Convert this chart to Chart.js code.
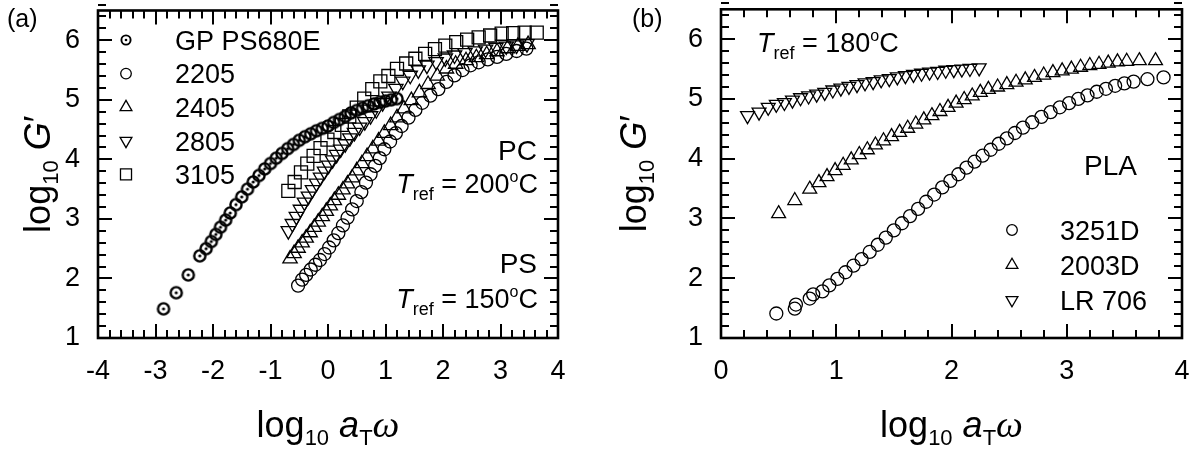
<!DOCTYPE html>
<html><head><meta charset="utf-8">
<script src="https://cdn.jsdelivr.net/npm/chart.js@4/dist/chart.umd.min.js"></script>
<style>
html,body{margin:0;padding:0;background:#fff;}
#wrap{position:relative;width:1193px;height:450px;overflow:hidden;background:#fff;}
.p{position:absolute;top:0;height:450px;}
</style></head><body>
<div id="wrap">
<div class="p" style="left:0;width:596px"><canvas id="ca"></canvas></div>
<div class="p" style="left:596px;width:597px"><canvas id="cb"></canvas></div>
</div>
<script>
// ---------- tick labels ----------
const xTicksA = [-4,-3,-2,-1,0,1,2,3,4];
const xTicksB = [0,1,2,3,4];
const yTicks = [1,2,3,4,5,6];

// ---------- panel (a) ----------
const labelsA = ['GP PS680E','2205','2405','2805','3105'];
const gpX = [-2.86,-2.64,-2.43,-2.23,-2.12,-2.03,-1.95,-1.87,-1.78,-1.70,-1.60,-1.50,-1.40,-1.30,-1.20,-1.10,-1.00,-0.90,-0.80,-0.70,-0.60,-0.50,-0.40,-0.30,-0.20,-0.10,0.00,0.10,0.20,0.30,0.40,0.50,0.60,0.70,0.80,0.90,1.00,1.10,1.20];
const gpY = [1.49,1.76,2.06,2.38,2.50,2.62,2.74,2.86,2.98,3.10,3.24,3.37,3.50,3.62,3.73,3.84,3.93,4.02,4.10,4.18,4.25,4.32,4.38,4.43,4.48,4.52,4.56,4.62,4.67,4.72,4.78,4.82,4.86,4.90,4.93,4.96,4.98,5.00,5.02];
const s2205X = [-0.52,-0.45,-0.38,-0.30,-0.22,-0.14,-0.06,0.02,0.10,0.18,0.26,0.34,0.42,0.50,0.58,0.66,0.74,0.82,0.90,0.98,1.08,1.18,1.28,1.40,1.52,1.64,1.78,1.92,2.06,2.20,2.34,2.48,2.62,2.78,2.94,3.10,3.28,3.45];
const s2205Y = [1.88,1.98,2.06,2.15,2.23,2.31,2.41,2.52,2.64,2.76,2.89,3.02,3.16,3.30,3.45,3.61,3.75,3.89,4.02,4.17,4.30,4.44,4.56,4.70,4.83,4.95,5.07,5.18,5.30,5.41,5.50,5.58,5.63,5.68,5.72,5.77,5.82,5.86];
const s2405X = [-0.66,-0.59,-0.52,-0.45,-0.38,-0.31,-0.24,-0.17,-0.10,-0.03,0.04,0.11,0.18,0.26,0.34,0.42,0.50,0.59,0.68,0.78,0.88,0.98,1.09,1.20,1.32,1.45,1.59,1.74,1.90,2.06,2.22,2.40,2.58,2.76,2.94,3.12,3.30,3.48];
const s2405Y = [2.33,2.42,2.51,2.60,2.68,2.77,2.86,2.95,3.04,3.13,3.22,3.31,3.40,3.49,3.59,3.69,3.81,3.93,4.05,4.18,4.31,4.44,4.57,4.70,4.85,4.99,5.12,5.26,5.40,5.52,5.60,5.66,5.71,5.76,5.81,5.86,5.90,5.93];
const s2805X = [-0.69,-0.62,-0.55,-0.48,-0.41,-0.34,-0.27,-0.20,-0.13,-0.06,0.01,0.08,0.15,0.22,0.30,0.38,0.46,0.55,0.64,0.74,0.84,0.95,1.06,1.18,1.30,1.43,1.57,1.72,1.88,2.04,2.20,2.38,2.56,2.74,2.92,3.10,3.28,3.46];
const s2805Y = [2.80,2.92,3.04,3.16,3.28,3.38,3.49,3.60,3.70,3.80,3.90,3.99,4.08,4.17,4.26,4.36,4.45,4.54,4.63,4.73,4.83,4.95,5.06,5.19,5.31,5.41,5.50,5.58,5.64,5.70,5.75,5.79,5.82,5.85,5.88,5.90,5.92,5.94];
const s3105X = [-0.69,-0.58,-0.47,-0.36,-0.25,-0.13,-0.01,0.11,0.24,0.37,0.50,0.63,0.77,0.91,1.05,1.20,1.36,1.52,1.69,1.86,2.04,2.23,2.42,2.62,2.82,3.02,3.22,3.42,3.63];
const s3105Y = [3.47,3.62,3.78,3.93,4.06,4.19,4.33,4.46,4.58,4.72,4.87,5.02,5.18,5.31,5.40,5.52,5.61,5.69,5.77,5.85,5.91,5.97,6.01,6.05,6.08,6.11,6.12,6.13,6.13];

// ---------- panel (b) ----------
const labelsB = ['3251D','2003D','LR 706'];
const p3251X = [0.48,0.64,0.65,0.77,0.80,0.88,0.94,1.01,1.08,1.15,1.22,1.29,1.36,1.43,1.50,1.57,1.64,1.71,1.78,1.85,1.92,1.99,2.06,2.13,2.20,2.27,2.34,2.41,2.48,2.55,2.62,2.70,2.78,2.86,2.94,3.02,3.10,3.18,3.26,3.34,3.42,3.50,3.58,3.70,3.84];
const p3251Y = [1.41,1.49,1.56,1.66,1.73,1.78,1.88,1.99,2.10,2.21,2.32,2.44,2.56,2.68,2.80,2.92,3.04,3.16,3.28,3.40,3.52,3.63,3.74,3.85,3.95,4.05,4.15,4.25,4.34,4.43,4.52,4.61,4.70,4.78,4.86,4.93,5.00,5.06,5.12,5.17,5.22,5.26,5.29,5.33,5.36];
const p2003X = [0.50,0.64,0.77,0.85,0.92,0.99,1.06,1.13,1.20,1.27,1.34,1.41,1.48,1.55,1.62,1.69,1.76,1.83,1.90,1.97,2.04,2.11,2.18,2.25,2.32,2.40,2.48,2.56,2.64,2.72,2.80,2.88,2.96,3.04,3.12,3.20,3.28,3.36,3.44,3.52,3.63,3.77];
const p2003Y = [3.08,3.30,3.49,3.60,3.70,3.80,3.89,3.98,4.07,4.15,4.23,4.30,4.37,4.44,4.51,4.58,4.65,4.72,4.79,4.86,4.93,4.99,5.05,5.11,5.16,5.20,5.24,5.28,5.32,5.36,5.40,5.44,5.47,5.50,5.53,5.56,5.58,5.60,5.62,5.63,5.64,5.64];
const lr706X = [0.23,0.33,0.41,0.48,0.55,0.62,0.69,0.76,0.83,0.90,0.97,1.04,1.11,1.18,1.25,1.32,1.39,1.46,1.53,1.60,1.67,1.74,1.81,1.88,1.95,2.02,2.09,2.16,2.24];
const lr706Y = [4.72,4.78,4.86,4.91,4.94,4.98,5.02,5.05,5.08,5.11,5.15,5.18,5.21,5.24,5.27,5.29,5.32,5.34,5.37,5.39,5.41,5.43,5.45,5.46,5.48,5.49,5.50,5.51,5.52];

// ---------- helpers ----------
const SANS = '"Liberation Sans", Arial, Helvetica, sans-serif';
const SERIF = '"Liberation Serif", "Times New Roman", serif';
const pts = (xs, ys) => xs.map((x, i) => ({x, y: ys[i]}));

function ringDot(r, lw, dr) {
  const s = Math.ceil(2 * r + lw + 2);
  const c = document.createElement('canvas');
  c.width = s; c.height = s;
  const g = c.getContext('2d');
  g.strokeStyle = '#000'; g.lineWidth = lw;
  g.beginPath(); g.arc(s / 2, s / 2, r, 0, Math.PI * 2); g.stroke();
  g.fillStyle = '#000';
  g.beginPath(); g.arc(s / 2, s / 2, dr, 0, Math.PI * 2); g.fill();
  return c;
}
const gpMarker = ringDot(5.6, 2.4, 1.6);
const gpLegend = ringDot(4.6, 1.9, 1.3);

function fontStr(s) { return (s.it ? 'italic ' : '') + s.sz + 'px ' + (s.ff || SANS); }
function richWidth(ctx, segs) {
  let w = 0;
  for (const s of segs) { ctx.font = fontStr(s); w += ctx.measureText(s.t).width; }
  return w;
}
function drawRich(ctx, x, y, segs, align) {
  const w = richWidth(ctx, segs);
  let cx = align === 'right' ? x - w : align === 'center' ? x - w / 2 : x;
  ctx.textAlign = 'left'; ctx.textBaseline = 'alphabetic'; ctx.fillStyle = '#000';
  for (const s of segs) {
    ctx.font = fontStr(s);
    ctx.fillText(s.t, cx, y + (s.dy || 0));
    cx += ctx.measureText(s.t).width;
  }
}
const trefSegs = (n) => [
  {t: 'T', sz: 27, it: true},
  {t: 'ref', sz: 18, dy: 7},
  {t: ' = ' + n, sz: 27},
  {t: 'o', sz: 16, dy: -11},
  {t: 'C', sz: 27}
];
const xTitleSegs = [
  {t: 'log', sz: 36}, {t: '10', sz: 22, dy: 8}, {t: ' ', sz: 36},
  {t: 'a', sz: 36, it: true}, {t: 'T', sz: 22, dy: 8},
  {t: '\u03c9', sz: 38, it: true, ff: SERIF}
];
const yTitleSegs = [
  {t: 'log', sz: 36}, {t: '10', sz: 22, dy: 8}, {t: ' ', sz: 36},
  {t: 'G', sz: 36, it: true}, {t: '\u2032', sz: 36}
];

function drawMarker(ctx, style, x, y, r, rot) {
  ctx.save();
  if (style instanceof HTMLCanvasElement) {
    ctx.drawImage(style, x - style.width / 2, y - style.height / 2);
    ctx.restore(); return;
  }
  ctx.strokeStyle = '#000'; ctx.lineWidth = 1.3; ctx.fillStyle = 'rgba(0,0,0,0)';
  if (Chart.helpers && Chart.helpers.drawPoint) {
    Chart.helpers.drawPoint(ctx, {pointStyle: style, rotation: rot || 0, radius: r, borderWidth: 1.3}, x, y);
  }
  ctx.restore();
}

// frame + inward ticks + text overlay
function makeDecor(cfg) {
  return {
    id: 'decor',
    afterDraw(chart) {
      const {ctx, chartArea: a, scales} = chart;
      const xs = scales.x, ys = scales.y;
      ctx.save();
      ctx.strokeStyle = '#000';
      ctx.lineCap = 'butt';
      ctx.lineWidth = 2;
      const maj = 14, mnr = 8;
      // x ticks (bottom & top)
      const nx = Math.round((xs.max - xs.min) / 0.2);
      for (let i = 0; i <= nx; i++) {
        const v = xs.min + i * 0.2;
        const px = Math.round(xs.getPixelForValue(v)) ;
        const L = Math.abs(v - Math.round(v)) < 1e-6 ? maj : mnr;
        ctx.beginPath();
        ctx.moveTo(px, a.bottom); ctx.lineTo(px, a.bottom - L);
        ctx.moveTo(px, a.top); ctx.lineTo(px, a.top + L);
        ctx.stroke();
      }
      const ny = Math.round((ys.max - ys.min) / 0.2);
      for (let i = 0; i <= ny; i++) {
        const v = ys.min + i * 0.2;
        const py = Math.round(ys.getPixelForValue(v));
        const L = Math.abs(v - Math.round(v)) < 1e-6 ? maj : mnr;
        ctx.beginPath();
        ctx.moveTo(a.left, py); ctx.lineTo(a.left + L, py);
        ctx.moveTo(a.right, py); ctx.lineTo(a.right - L, py);
        ctx.stroke();
      }
      ctx.lineWidth = 2.6;
      ctx.strokeRect(a.left, a.top, a.right - a.left, a.bottom - a.top);

      // axis titles
      drawRich(ctx, (a.left + a.right) / 2, 437, xTitleSegs, 'center');
      ctx.save();
      ctx.translate(cfg.yTitleX, (a.top + a.bottom) / 2);
      ctx.rotate(-Math.PI / 2);
      drawRich(ctx, 0, 0, yTitleSegs, 'center');
      ctx.restore();

      // panel letter
      drawRich(ctx, cfg.letter.x, cfg.letter.y, [{t: cfg.letter.t, sz: 25}], 'left');

      // legend
      cfg.legend.items.forEach((it, i) => {
        const y = cfg.legend.y0 + i * cfg.legend.dy;
        drawMarker(ctx, it.style, cfg.legend.mx, y, it.r, it.rot);
        drawRich(ctx, cfg.legend.tx, y + 9.7, [{t: it.label, sz: 27}], 'left');
      });

      // annotations
      cfg.notes.forEach(n => drawRich(ctx, n.x, n.y, n.segs, n.align));
      ctx.restore();
    }
  };
}

function scaleSet(xmin, xmax, xt, leftW, rightW) {
  const common = {
    type: 'linear',
    grid: {display: false, drawTicks: false},
    border: {display: false}
  };
  const tickFont = {family: SANS, size: 27};
  return {
    x: Object.assign({}, common, {
      position: 'bottom', min: xmin, max: xmax,
      afterBuildTicks: s => { s.ticks = xt.map(v => ({value: v})); },
      ticks: {font: tickFont, color: '#000', padding: 17, maxRotation: 0, autoSkip: false,
              callback: v => String(v)},
      afterFit: s => { s.height = 112; s.paddingLeft = 0; s.paddingRight = 0; }
    }),
    xTop: Object.assign({}, common, {
      position: 'top', min: xmin, max: xmax,
      ticks: {display: false},
      afterFit: s => { s.height = 8; s.paddingLeft = 0; s.paddingRight = 0; }
    }),
    y: Object.assign({}, common, {
      position: 'left', min: 1, max: 6.5,
      afterBuildTicks: s => { s.ticks = yTicks.map(v => ({value: v})); },
      ticks: {font: tickFont, color: '#000', padding: 18, autoSkip: false, callback: v => String(v)},
      afterFit: s => { s.width = leftW; s.paddingTop = 0; s.paddingBottom = 0; }
    }),
    yR: Object.assign({}, common, {
      position: 'right', min: 1, max: 6.5,
      ticks: {display: false},
      afterFit: s => { s.width = rightW; s.paddingTop = 0; s.paddingBottom = 0; }
    })
  };
}

const baseDs = {type: 'scatter', showLine: false, borderColor: '#000', backgroundColor: 'rgba(0,0,0,0)',
                pointBorderWidth: 1.3, pointHoverRadius: 0};

Chart.defaults.font.family = SANS;

new Chart(document.getElementById('ca'), {
  type: 'scatter',
  data: {datasets: [
    Object.assign({}, baseDs, {label: labelsA[1], data: pts(s2205X, s2205Y), pointStyle: 'circle', pointRadius: 6.5}),
    Object.assign({}, baseDs, {label: labelsA[2], data: pts(s2405X, s2405Y), pointStyle: 'triangle', pointRadius: 8.3}),
    Object.assign({}, baseDs, {label: labelsA[3], data: pts(s2805X, s2805Y), pointStyle: 'triangle', pointRotation: 180, pointRadius: 8.3}),
    Object.assign({}, baseDs, {label: labelsA[4], data: pts(s3105X, s3105Y), pointStyle: 'rect', pointRadius: 9.2}),
    Object.assign({}, baseDs, {label: labelsA[0], data: pts(gpX, gpY), pointStyle: gpMarker, pointRadius: 7})
  ]},
  options: {
    responsive: true, maintainAspectRatio: false, animation: false,
    layout: {padding: 0},
    plugins: {legend: {display: false}, tooltip: {enabled: false}, title: {display: false}},
    events: [],
    scales: scaleSet(-4, 4, xTicksA, 98, 38)
  },
  plugins: [makeDecor({
    yTitleX: 50,
    letter: {t: '(a)', x: 7, y: 27},
    legend: {mx: 126, tx: 175, y0: 40, dy: 33.6, items: [
      {style: gpLegend, label: labelsA[0]},
      {style: 'circle', r: 5.3, label: labelsA[1]},
      {style: 'triangle', r: 6.8, label: labelsA[2]},
      {style: 'triangle', r: 6.8, rot: 180, label: labelsA[3]},
      {style: 'rect', r: 7.8, label: labelsA[4]}
    ]},
    notes: [
      {x: 537, y: 160, align: 'right', segs: [{t: 'PC', sz: 28}]},
      {x: 538, y: 193, align: 'right', segs: trefSegs('200')},
      {x: 537, y: 273, align: 'right', segs: [{t: 'PS', sz: 28}]},
      {x: 538, y: 308, align: 'right', segs: trefSegs('150')}
    ]
  })]
});

new Chart(document.getElementById('cb'), {
  type: 'scatter',
  data: {datasets: [
    Object.assign({}, baseDs, {label: labelsB[0], data: pts(p3251X, p3251Y), pointStyle: 'circle', pointRadius: 6.5}),
    Object.assign({}, baseDs, {label: labelsB[1], data: pts(p2003X, p2003Y), pointStyle: 'triangle', pointRadius: 8}),
    Object.assign({}, baseDs, {label: labelsB[2], data: pts(lr706X, lr706Y), pointStyle: 'triangle', pointRotation: 180, pointRadius: 8})
  ]},
  options: {
    responsive: true, maintainAspectRatio: false, animation: false,
    layout: {padding: 0},
    plugins: {legend: {display: false}, tooltip: {enabled: false}, title: {display: false}},
    events: [],
    scales: scaleSet(0, 4, xTicksB, 125, 11)
  },
  plugins: [makeDecor({
    yTitleX: 50 + 0,
    letter: {t: '(b)', x: 36, y: 27},
    legend: {mx: 416, tx: 464, y0: 230, dy: 35, items: [
      {style: 'circle', r: 5.3, label: labelsB[0]},
      {style: 'triangle', r: 6.8, label: labelsB[1]},
      {style: 'triangle', r: 6.8, rot: 180, label: labelsB[2]}
    ]},
    notes: [
      {x: 161, y: 52, align: 'left', segs: trefSegs('180')},
      {x: 541, y: 175, align: 'right', segs: [{t: 'PLA', sz: 28}]}
    ]
  })]
});
</script>
</body></html>
